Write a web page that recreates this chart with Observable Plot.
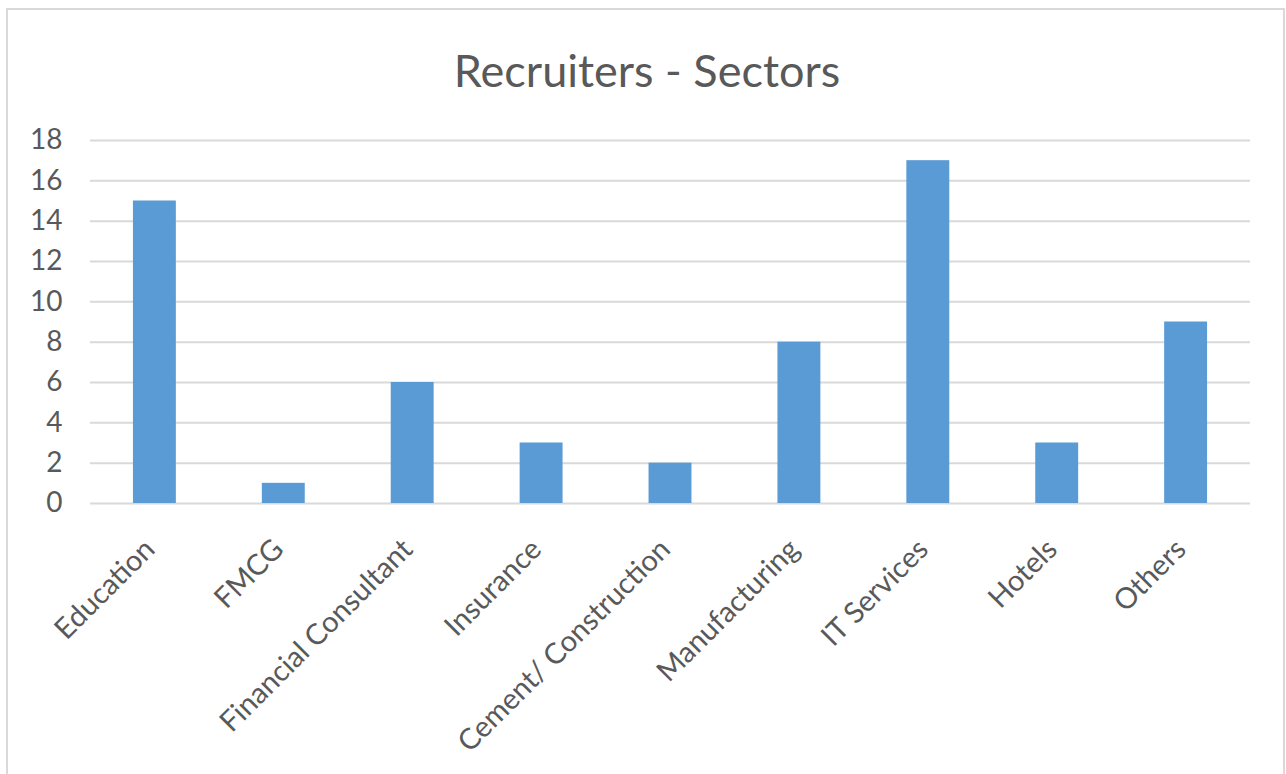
<!DOCTYPE html>
<html><head><meta charset="utf-8">
<script src="https://cdn.jsdelivr.net/npm/d3@7"></script>
<script src="https://cdn.jsdelivr.net/npm/@observablehq/plot@0.6"></script>
<style>
html,body{margin:0;padding:0;background:#fff;overflow:hidden;width:1286px;height:774px;}
#frame{position:absolute;left:6px;top:8px;width:1279px;height:800px;border:2px solid #d9d9d9;box-sizing:border-box;}
#title{position:absolute;left:0;width:1294px;top:43px;text-align:center;font-family:Lato,sans-serif;font-size:45px;color:#595959;white-space:nowrap;}
#chart{position:absolute;left:0;top:0;}
</style></head><body>
<div id="frame"></div>
<div id="title">Recruiters - Sectors</div>
<div id="chart"></div>
<script>
const sectors = ["Education","FMCG","Financial Consultant","Insurance","Cement/ Construction","Manufacturing","IT Services","Hotels","Others"];
const counts = [15,1,6,3,2,8,17,3,9];
const yTicks = [0,2,4,6,8,10,12,14,16,18];
const data = sectors.map((s,i)=>({sector:s,count:counts[i]}));
const chart = Plot.plot({
  width:1286,height:774,marginTop:140,marginBottom:271,marginLeft:90,marginRight:36,
  style:{fontFamily:"Lato, sans-serif",fontSize:"28px",color:"#595959",background:"transparent",overflow:"visible"},
  x:{domain:sectors,paddingInner:0.667,paddingOuter:0.333,round:false},
  y:{domain:[0,18]},
  marks:[
    Plot.gridY(yTicks,{stroke:"#d9d9d9",strokeOpacity:1,strokeWidth:2}),
    Plot.barY(data,{x:"sector",y:"count",fill:"#5B9BD5"}),
    Plot.axisY({ticks:yTicks,tickSize:0,tickPadding:28,label:null,fontSize:28}),
    Plot.axisX({tickSize:0,tickRotate:-45,tickPadding:41,dx:-5,label:null,fontSize:29})
  ]
});
document.getElementById("chart").appendChild(chart);
</script>
</body></html>
